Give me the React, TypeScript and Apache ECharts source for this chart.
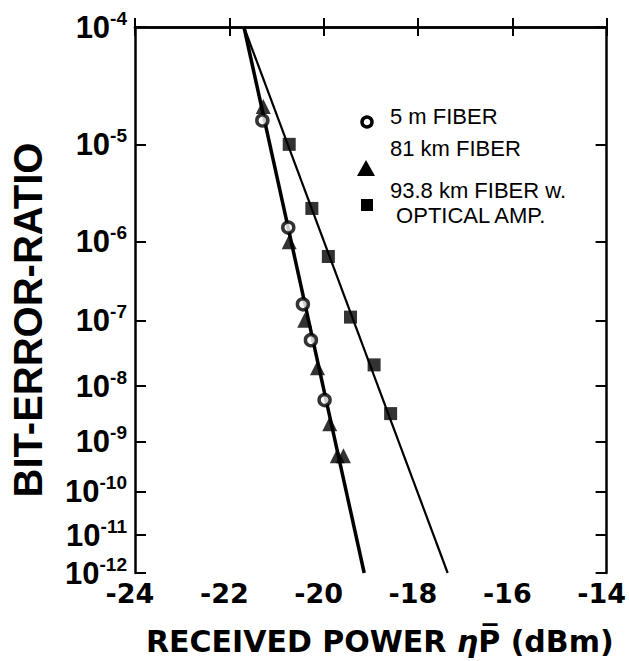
import React, { useEffect, useRef } from "react";
import * as echarts from "echarts";

// ---- data ----
const X_MIN = -24;
const X_MAX = -14;
const X_STEP = 2;
// BER decades shown on the y axis (exponents of 10)
const Y_EXPONENTS = [-4, -5, -6, -7, -8, -9, -10, -11, -12];
// relative position of each decade down the (non-linear) BER axis, 0 = top, 1 = bottom
const Y_DECADE_POS = [0, 0.2149, 0.3934, 0.5373, 0.6576, 0.7596, 0.8506, 0.9308, 1];

const FIBER5_X = [-21.3, -20.75, -20.44, -20.27, -19.98];
const FIBER5_BER = [1.6e-5, 1.4e-6, 1.6e-7, 5e-8, 5.6e-9];

const FIBER81_X = [-21.28, -20.73, -20.4, -20.13, -19.87, -19.71, -19.58];
const FIBER81_BER = [2.1e-5, 1e-6, 1e-7, 1.9e-8, 2.1e-9, 5.2e-10, 5.2e-10];

const AMP_X = [-20.73, -20.25, -19.9, -19.43, -18.93, -18.58];
const AMP_BER = [1e-5, 2.2e-6, 6.5e-7, 1.1e-7, 2.1e-8, 3.2e-9];

const FIT_SHORT_X = [-21.69, -19.14];
const FIT_SHORT_BER = [1e-4, 1e-12];
const FIT_AMP_X = [-21.69, -17.37];
const FIT_AMP_BER = [1e-4, 1e-12];

const LEGEND_LABELS = ["5 m FIBER", "81 km FIBER", "93.8 km FIBER w.\n\u00a0OPTICAL AMP."];

// map a BER value onto the axis scale (piecewise through the decade positions)
function berToPos(b: number): number {
  const k = Math.min(8, Math.max(0, -4 - Math.log10(b)));
  const i = Math.min(7, Math.floor(k));
  const f = k - i;
  return Y_DECADE_POS[i] + f * (Y_DECADE_POS[i + 1] - Y_DECADE_POS[i]);
}

function pairs(xs: number[], bs: number[]) {
  return xs.map((x, i) => [x, berToPos(bs[i])]);
}

const SANS = "'Liberation Sans', Arial, sans-serif";
const DEJAVU = "'DejaVu Sans', sans-serif";

export default function App() {
  const ref = useRef<HTMLDivElement>(null);

  useEffect(() => {
    if (!ref.current) return;
    const chart = echarts.init(ref.current, null, { renderer: "svg" });

    const yLabel = (v: number) => {
      let idx = 0;
      let best = 1e9;
      Y_DECADE_POS.forEach((p, i) => {
        const d = Math.abs(p - v);
        if (d < best) {
          best = d;
          idx = i;
        }
      });
      return `{b|10}{s|${Y_EXPONENTS[idx]}}`;
    };

    const baseY = {
      type: "value",
      min: 0,
      max: 1,
      inverse: true,
      splitLine: { show: false },
      axisLine: { show: true, lineStyle: { color: "#000", width: 2.5 } },
      axisTick: {
        show: true,
        inside: true,
        length: 11,
        customValues: Y_DECADE_POS,
        lineStyle: { color: "#000", width: 2 },
      },
    };

    const legendText = (text: string, x: number, y: number) => ({
      type: "text",
      x,
      y,
      style: {
        text,
        fontFamily: SANS,
        fontSize: 22,
        lineHeight: 25,
        fill: "#000",
        align: "left",
        verticalAlign: "middle",
      },
    });

    chart.setOption({
      animation: false,
      backgroundColor: "#fff",
      grid: { left: 133, right: 19, top: 27, bottom: 85, containLabel: false },
      xAxis: [
        {
          type: "value",
          min: X_MIN,
          max: X_MAX,
          interval: X_STEP,
          position: "bottom",
          splitLine: { show: false },
          axisLine: { show: true, lineStyle: { color: "#000", width: 2.5 } },
          axisTick: { show: true, inside: true, length: 9, lineStyle: { color: "#000", width: 2 } },
          axisLabel: {
            color: "#000",
            fontFamily: DEJAVU,
            fontWeight: "bold",
            fontSize: 27,
            margin: 7,
            padding: [0, 10, 0, 0],
            showMinLabel: true,
            showMaxLabel: true,
            formatter: (v: number) => String(v).replace("−", "-"),
          },
          name: "RECEIVED POWER {i|η}P\u0305 (dBm)",
          nameLocation: "middle",
          nameGap: 53,
          nameTextStyle: {
            color: "#000",
            fontFamily: DEJAVU,
            fontWeight: "bold",
            fontSize: 30,
            padding: [0, 0, 0, 18],
            rich: {
              i: {
                color: "#000",
                fontFamily: DEJAVU,
                fontStyle: "italic",
                fontSize: 30,
              },
            },
          },
        },
        {
          type: "value",
          min: X_MIN,
          max: X_MAX,
          interval: X_STEP,
          position: "top",
          splitLine: { show: false },
          axisLine: { show: true, lineStyle: { color: "#000", width: 2.5 } },
          axisTick: { show: true, inside: true, length: 9, lineStyle: { color: "#000", width: 2 } },
          axisLabel: { show: false },
        },
      ],
      yAxis: [
        {
          ...baseY,
          position: "left",
          axisLabel: {
            show: true,
            customValues: Y_DECADE_POS,
            margin: 8,
            color: "#000",
            formatter: yLabel,
            rich: {
              b: { fontFamily: SANS, fontWeight: "bold", fontSize: 31, color: "#000" },
              s: {
                fontFamily: SANS,
                fontWeight: "bold",
                fontSize: 19,
                color: "#000",
                padding: [0, 0, 18, 0],
              },
            },
          },
          name: "BIT-ERROR-RATIO",
          nameLocation: "middle",
          nameRotate: 90,
          nameGap: 87,
          nameTextStyle: {
            color: "#000",
            fontFamily: SANS,
            fontWeight: "bold",
            fontSize: 40,
            padding: [0, 40, 0, 0],
          },
        },
        {
          ...baseY,
          position: "right",
          axisLabel: { show: false },
        },
      ],
      series: [
        {
          name: "fit 5 m / 81 km",
          type: "line",
          data: pairs(FIT_SHORT_X, FIT_SHORT_BER),
          showSymbol: false,
          symbol: "none",
          lineStyle: { color: "#000", width: 3.5 },
          z: 2,
        },
        {
          name: "fit 93.8 km",
          type: "line",
          data: pairs(FIT_AMP_X, FIT_AMP_BER),
          showSymbol: false,
          symbol: "none",
          lineStyle: { color: "#000", width: 2.2 },
          z: 2,
        },
        {
          name: LEGEND_LABELS[1],
          type: "scatter",
          data: pairs(FIBER81_X, FIBER81_BER),
          symbol: "triangle",
          symbolSize: 15,
          itemStyle: { color: "#000" },
          z: 3,
        },
        {
          name: "93.8 km FIBER w. OPTICAL AMP.",
          type: "scatter",
          data: pairs(AMP_X, AMP_BER),
          symbol: "rect",
          symbolSize: 13,
          itemStyle: { color: "#000" },
          z: 3,
        },
        {
          name: LEGEND_LABELS[0],
          type: "scatter",
          data: pairs(FIBER5_X, FIBER5_BER),
          symbol: "circle",
          symbolSize: 11,
          itemStyle: { color: "#fff", borderColor: "#000", borderWidth: 3.5 },
          z: 4,
        },
      ],
      graphic: [
        {
          type: "circle",
          shape: { cx: 367, cy: 122, r: 5 },
          style: { fill: "#fff", stroke: "#000", lineWidth: 3.5 },
        },
        legendText(LEGEND_LABELS[0], 390, 116),
        {
          type: "polygon",
          shape: { points: [[366, 160], [375, 176], [357, 176]] },
          style: { fill: "#000" },
        },
        legendText(LEGEND_LABELS[1], 390, 148),
        {
          type: "rect",
          shape: { x: 361, y: 199, width: 12, height: 12 },
          style: { fill: "#000" },
        },
        legendText(LEGEND_LABELS[2], 390, 203),
      ],
    });

    return () => chart.dispose();
  }, []);

  return (
    <div
      ref={ref}
      style={{ position: "absolute", left: 0, top: 0, width: 629, height: 661, background: "#fff" }}
    />
  );
}
